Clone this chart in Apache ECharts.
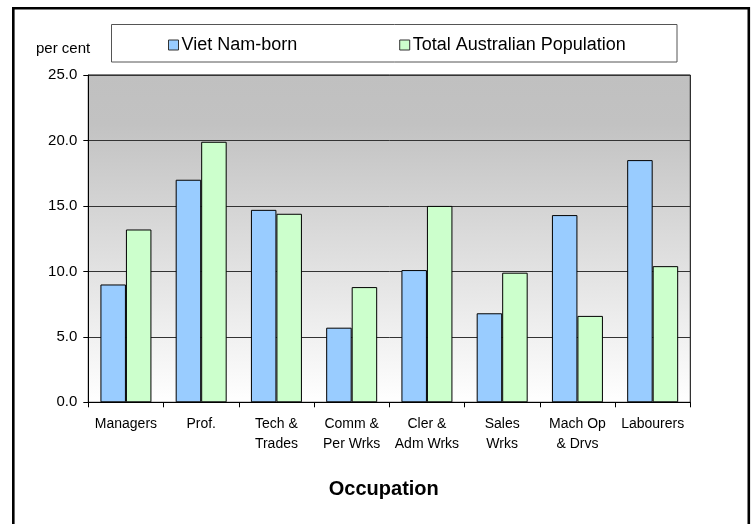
<!DOCTYPE html>
<html>
<head>
<meta charset="utf-8">
<script src="https://cdn.jsdelivr.net/npm/echarts@6/dist/echarts.min.js"></script>
<style>
html,body{margin:0;padding:0;background:#fff;}
#c{width:752px;height:524px;}
</style>
</head>
<body>
<div id="c"></div>
<script>
var categories = ['Managers', 'Prof.', 'Tech &\nTrades', 'Comm &\nPer Wrks', 'Cler &\nAdm Wrks', 'Sales\nWrks', 'Mach Op\n& Drvs', 'Labourers'];
var vietNamBorn = [9.0, 17.0, 14.7, 5.7, 10.1, 6.8, 14.3, 18.5];
var totalAustralian = [13.2, 19.9, 14.4, 8.8, 15.0, 9.9, 6.6, 10.4];
var seriesNames = ['Viet Nam-born', 'Total Australian Population'];
var yTicks = { min: 0, max: 25, interval: 5 };

var FONT = '"Liberation Sans", Arial, sans-serif';
var chart = echarts.init(document.getElementById('c'), null, { renderer: 'canvas' });
chart.setOption({
  animation: false,
  backgroundColor: '#ffffff',
  textStyle: { fontFamily: FONT, color: '#000' },
  graphic: [
    { type: 'rect', shape: { x: 13.3, y: 8.2, width: 735.5, height: 600 },
      style: { fill: 'none', stroke: '#000', lineWidth: 2.6 }, z: 100 },
    { type: 'rect', shape: { x: 111.5, y: 24.5, width: 565.5, height: 37.5 },
      style: { fill: '#fff', stroke: '#555', lineWidth: 1 }, z: 0 },
    { type: 'text', left: 36, top: 41,
      style: { text: 'per cent', font: '15px ' + FONT, fill: '#000' } }
  ],
  legend: {
    data: seriesNames,
    left: 163, top: 31,
    icon: 'rect', itemWidth: 10, itemHeight: 10, itemGap: 102,
    itemStyle: { borderColor: '#333', borderWidth: 1 },
    textStyle: { fontFamily: FONT, fontSize: 18, color: '#000', padding: [0, 0, 0, -2] },
    z: 5
  },
  grid: {
    left: 88.3, right: 61.7, top: 75, bottom: 121.7,
    show: true, borderColor: '#000', borderWidth: 1,
    backgroundColor: { type: 'linear', x: 0, y: 0, x2: 0, y2: 1,
      colorStops: [{ offset: 0, color: '#c0c0c0' }, { offset: 0.15, color: '#c2c2c2' }, { offset: 1, color: '#ffffff' }] }
  },
  xAxis: {
    type: 'category', data: categories,
    name: 'Occupation', nameLocation: 'middle', nameGap: 77,
    nameTextStyle: { fontFamily: FONT, fontSize: 20, fontWeight: 'bold', color: '#000', padding: [0, 11, 0, 0] },
    axisLine: { lineStyle: { color: '#000', width: 1 } },
    axisTick: { show: true, length: 5, lineStyle: { color: '#000' } },
    axisLabel: { fontFamily: FONT, fontSize: 14, color: '#000', margin: 12, lineHeight: 20, interval: 0 }
  },
  yAxis: {
    type: 'value', min: yTicks.min, max: yTicks.max, interval: yTicks.interval,
    axisLine: { show: true, lineStyle: { color: '#000', width: 1 } },
    axisTick: { show: true, length: 5, lineStyle: { color: '#000' } },
    axisLabel: { fontFamily: FONT, fontSize: 15, color: '#000', margin: 11,
      formatter: function (v) { return v.toFixed(1); } },
    splitLine: { show: true, lineStyle: { color: '#333', width: 1 } }
  },
  series: [
    { name: seriesNames[0], type: 'bar', data: vietNamBorn, barWidth: 25.5, barGap: '0%',
      itemStyle: { color: '#99ccff', borderColor: '#000', borderWidth: 1 } },
    { name: seriesNames[1], type: 'bar', data: totalAustralian, barWidth: 25.5, barGap: '0%',
      itemStyle: { color: '#ccffcc', borderColor: '#000', borderWidth: 1 } }
  ]
});
</script>
</body>
</html>
